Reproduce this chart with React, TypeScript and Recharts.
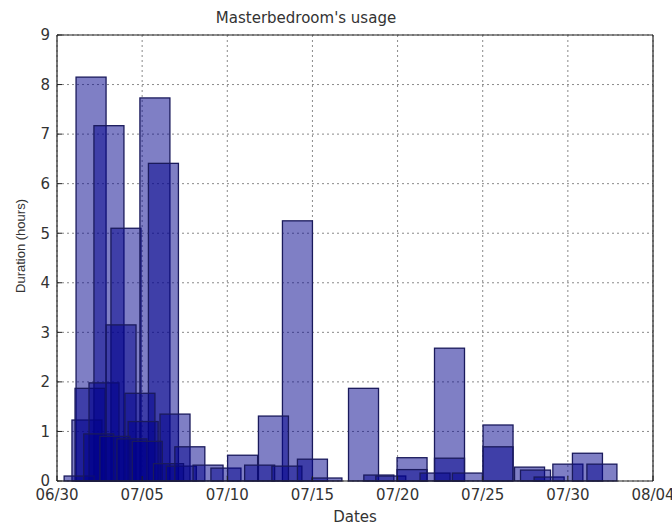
import { BarChart, Bar, XAxis, YAxis, CartesianGrid, ReferenceLine } from "recharts";

// x axis: days since 06/30
const dateTicks = [0, 5, 10, 15, 20, 25, 30, 35];
const dateLabels = ["06/30", "07/05", "07/10", "07/15", "07/20", "07/25", "07/30", "08/04"];
const hourTicks = [0, 1, 2, 3, 4, 5, 6, 7, 8, 9];

// long sessions
const longDays = [2.0, 3.05, 4.05, 5.75, 6.25, 14.12, 23.05];
const longHours = [8.15, 7.17, 5.1, 7.73, 6.41, 5.25, 2.68];

// medium sessions
const midDays = [1.76, 1.94, 2.76, 3.76, 4.87, 5.06, 6.93, 12.71, 18.0, 25.9];
const midHours = [1.23, 1.87, 1.98, 3.15, 1.77, 1.2, 1.35, 1.31, 1.87, 1.13];

// short sessions
const shortDays = [1.3, 2.45, 3.4, 4.4, 5.3, 6.55, 7.3, 7.8, 8.87, 9.92, 10.9, 11.9, 13.5, 15.0, 15.85, 18.9, 19.6, 20.85, 20.85, 22.2, 23.05, 24.1, 25.9, 27.75, 28.1, 28.9, 30.0, 31.15, 32.0];
const shortHours = [0.1, 0.95, 0.9, 0.85, 0.8, 0.35, 0.3, 0.69, 0.32, 0.26, 0.52, 0.32, 0.3, 0.44, 0.06, 0.12, 0.1, 0.47, 0.23, 0.16, 0.46, 0.16, 0.69, 0.28, 0.22, 0.08, 0.34, 0.56, 0.34];

const toRows = (days: number[], hours: number[]) =>
  days.map((d, i) => ({ day: d, hours: hours[i] }));

const rows = [
  ...toRows(longDays, longHours),
  ...toRows(midDays, midHours),
  ...toRows(shortDays, shortHours),
];

const FONT = '"DejaVu Sans", sans-serif';
const TEXT = "#333";
const BAR_W = 30; // px, bars are wider than the spacing between sessions

// bars overlap each other, so keep the library's x centre but use a fixed width
const WideBar = (props: any) => {
  const { x, y, width, height } = props;
  if (height == null || height <= 0) return null;
  const cx = x + width / 2;
  return (
    <rect
      x={cx - BAR_W / 2}
      y={y}
      width={BAR_W}
      height={height}
      fill="#00008c"
      fillOpacity={0.5}
      stroke="#1a1a5c"
      strokeWidth={1.3}
    />
  );
};

const App = () => {
  return (
    <div style={{ position: "absolute", left: 0, top: 0, width: 672, height: 529, background: "#fff" }}>
      <BarChart
        width={672}
        height={529}
        data={rows}
        margin={{ top: 35, right: 19, bottom: 0, left: 0 }}
        style={{ fontFamily: FONT }}
      >
        <CartesianGrid stroke="#8a8a8a" strokeDasharray="2 3" />
        <XAxis
          dataKey="day"
          type="number"
          domain={[0, 35]}
          ticks={dateTicks}
          interval={0}
          tickFormatter={(v: number) => dateLabels[dateTicks.indexOf(v)]}
          height={48}
          tickSize={-5}
          tickMargin={13}
          tickLine={{ stroke: "#222" }}
          axisLine={{ stroke: "#222", strokeWidth: 1.2 }}
          tick={{ fill: TEXT, fontSize: 15, fontFamily: FONT }}
          label={{ value: "Dates", position: "insideBottom", offset: 7, fill: TEXT, fontSize: 15, fontFamily: FONT }}
          allowDataOverflow
        />
        <YAxis
          type="number"
          domain={[0, 9]}
          ticks={hourTicks}
          interval={0}
          width={57}
          tickSize={-5}
          tickMargin={12}
          tickLine={{ stroke: "#222" }}
          axisLine={{ stroke: "#222", strokeWidth: 1.2 }}
          tick={{ fill: TEXT, fontSize: 15, fontFamily: FONT }}
        />
        <Bar dataKey="hours" shape={WideBar} isAnimationActive={false} />
        <ReferenceLine y={9} stroke="#222" strokeWidth={1.2} />
        <ReferenceLine x={35} stroke="#222" strokeWidth={1.2} />
        <text x={306} y={23} textAnchor="middle" fill={TEXT} fontSize={15} fontFamily={FONT}>
          Masterbedroom's usage
        </text>
        <text
          x={20}
          y={246}
          transform="rotate(-90 20 246)"
          textAnchor="middle"
          dominantBaseline="central"
          fill={TEXT}
          fontSize={13}
          fontFamily='"Liberation Sans", Arial, sans-serif'
        >
          Duration (hours)
        </text>
      </BarChart>
    </div>
  );
};

export default App;
